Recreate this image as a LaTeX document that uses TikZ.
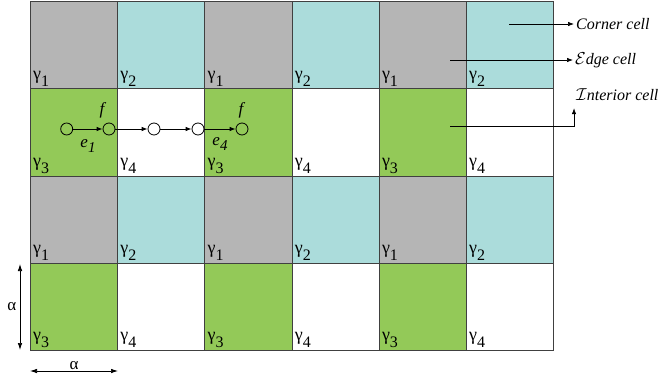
\documentclass[tikz,border=0pt]{standalone}
\usepackage{fontspec}
\setmainfont{Liberation Serif}
\usetikzlibrary{arrows.meta,positioning,calc}
\definecolor{cellfill1}{HTML}{B5B5B5}
\definecolor{cellfill2}{HTML}{ABDCDB}
\definecolor{cellfill3}{HTML}{93C958}
\definecolor{cellfill4}{HTML}{FFFFFF}
\newcommand{\lowsub}[3]{\raisebox{-#2}{\fontsize{#1}{#1}\selectfont #3}}

\begin{document}
\begin{tikzpicture}[x=1pt, y=1pt,
  cell/.style={draw=black!75, line width=0.9pt, minimum size=87.2pt, inner sep=0pt, anchor=south west},
  glabel/.style={anchor=south west, inner sep=1pt, font=\fontsize{18}{20}\selectfont},
  mlabel/.style={inner sep=1pt, font=\fontsize{17}{19}\selectfont\itshape},
  note/.style={anchor=west, inner sep=2pt, font=\fontsize{16}{19}\selectfont\itshape},
  dot/.style={circle, draw, line width=0.8pt, minimum size=12pt, inner sep=0pt},
  flow/.style={line width=0.8pt, -{Latex[length=6pt,width=4.5pt]}},
  pointer/.style={line width=0.7pt, -{Latex[length=6pt,width=4.5pt]}},
  dim/.style={line width=0.7pt, {Latex[length=7pt,width=4.5pt]}-{Latex[length=7pt,width=4.5pt]}}]
  \useasboundingbox (-30,-29) rectangle (630,351);
  \foreach \c in {0,...,5}
    \foreach \r in {0,...,3} {
      \pgfmathtruncatemacro{\k}{1+mod(\c,2)+2*(1-mod(\r,2))}
      \node[cell, fill=cellfill\k] (cell-\c-\r) at (\c*87.2, \r*87.2) {};
      \node[glabel] (g-\c-\r) at ($(cell-\c-\r.south west)+(2,2)$) {γ\lowsub{16}{7pt}{\k}};
    }
  \foreach \x [count=\n] in {36.7,79,124,168,212}
    \node[dot] (v\n) at (\x,222) {};
  \foreach \a/\b in {1/2,2/3,3/4,4/5}
    \draw[flow] (v\a) -- (v\b);
  \node[mlabel] (f1) at (72,241) {f};
  \node[mlabel] (e1) at (58,205) {e\lowsub{15}{5pt}{1}};
  \node[mlabel] (f4) at (211,241) {f};
  \node[mlabel] (e4) at (190,207) {e\lowsub{15}{5pt}{4}};
  \node[note] (corner-lbl) at (544,327) {Corner cell};
  \node[note] (edge-lbl) at (543,291) {$\mathcal{E}$dge cell};
  \node[note] (int-lbl) at (544,256) {$\mathcal{I}$nterior cell};
  \coordinate (corner-from) at (479,327);
  \coordinate (edge-from) at (420,291);
  \coordinate (int-from) at (420,225);
  \draw[pointer] (corner-from) -- (corner-lbl.west);
  \draw[pointer] (edge-from) -- (edge-lbl.west);
  \draw[pointer] (int-from) -| ($(int-lbl.south west)+(0,-5)$);
  \draw[dim] (-10,87) -- (-10,1) node[midway, left=0pt, font=\fontsize{17}{19}\selectfont] (alpha-v) {α};
  \draw[dim] (0,-20) -- (88,-20) node[midway, above=-2pt, font=\fontsize{17}{19}\selectfont] (alpha-h) {α};
\end{tikzpicture}
\end{document}
